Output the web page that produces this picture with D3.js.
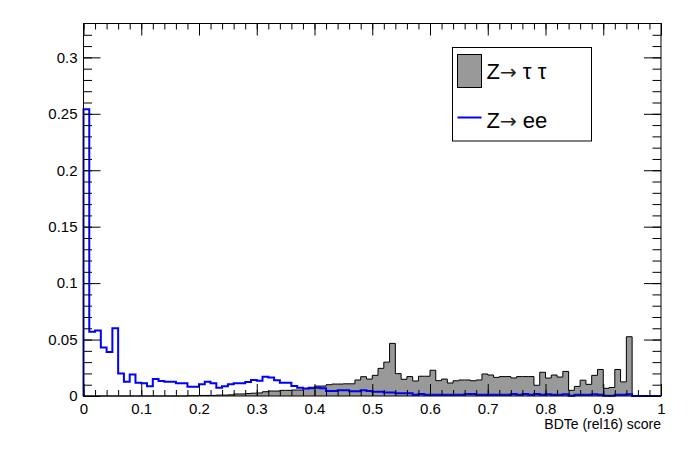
<!DOCTYPE html>
<html>
<head>
<meta charset="utf-8">
<script src="https://cdn.jsdelivr.net/npm/d3@7"></script>
<style>
  body { margin: 0; background: #fff; }
  svg { display: block; font-family: "Liberation Sans", Arial, sans-serif; }
  .tick text { font-size: 15px; fill: #000; }
</style>
</head>
<body>
<div id="chart"></div>
<script>
// 100 bins of width 0.01 on [0, 1]
const binWidth = 0.01;

// Z -> tau tau (grey filled)
const tautau = [
  0, 0, 0, 0, 0, 0, 0, 0, 0, 0,
  0, 0, 0, 0, 0, 0, 0, 0, 0.0003, 0.0003,
  0.0005, 0.0005, 0.0005, 0.0008, 0.0008, 0.001, 0.0018, 0.0018, 0.0022, 0.0025,
  0.0027, 0.0038, 0.0044, 0.0044, 0.005, 0.005, 0.0053, 0.0053, 0.0065, 0.0065,
  0.0088, 0.0088, 0.0100, 0.0106, 0.0106, 0.0108, 0.0108, 0.0142, 0.0171, 0.0150,
  0.0183, 0.0245, 0.0300, 0.0466, 0.0198, 0.0148, 0.0172, 0.0133, 0.0175, 0.0175,
  0.0228, 0.0136, 0.0150, 0.0115, 0.0135, 0.0142, 0.0142, 0.0135, 0.0142, 0.0195,
  0.0186, 0.0165, 0.0172, 0.0172, 0.0160, 0.0172, 0.0172, 0.0172, 0.0095, 0.0210,
  0.0159, 0.0186, 0.0168, 0.0218, 0.0050, 0.0085, 0.0140, 0.0103, 0.0183, 0.0235,
  0.0068, 0.0075, 0.0235, 0.0125, 0.0525, 0, 0, 0, 0, 0
];

// Z -> ee (blue line)
const zee = [
  0.254, 0.057, 0.058, 0.043, 0.039, 0.060, 0.020, 0.0127, 0.019, 0.0118,
  0.0112, 0.0086, 0.015, 0.0133, 0.0127, 0.0127, 0.0112, 0.0112, 0.0083, 0.0083,
  0.0103, 0.0127, 0.0112, 0.0074, 0.0086, 0.0103, 0.0112, 0.0112, 0.0124, 0.0142,
  0.0136, 0.0171, 0.0163, 0.0140, 0.0118, 0.0118, 0.0089, 0.0074, 0.0066, 0.0074,
  0.0074, 0.0068, 0.0044, 0.0044, 0.0050, 0.0050, 0.0041, 0.0041, 0.0050, 0.0044,
  0.0038, 0.0038, 0.0030, 0.0030, 0.0024, 0.0024, 0.0024, 0.0012, 0.0018, 0.0012,
  0.0012, 0.0012, 0.0010, 0.0012, 0.0012, 0.0010, 0.0018, 0.0018, 0.0012, 0.0012,
  0.0012, 0.0010, 0.0012, 0.0012, 0.0018, 0.0010, 0.0018, 0.0012, 0.0018, 0.0012,
  0.0015, 0.0012, 0.0012, 0.0015, 0.0003, 0.0010, 0.0012, 0.0012, 0.0015, 0.0010,
  0.0003, 0.0003, 0.0012, 0.0012, 0.0015, 0, 0, 0, 0, 0
];

const xTicks = [0, 0.1, 0.2, 0.3, 0.4, 0.5, 0.6, 0.7, 0.8, 0.9, 1];
const xTickLabels = ["0", "0.1", "0.2", "0.3", "0.4", "0.5", "0.6", "0.7", "0.8", "0.9", "1"];
const yTicks = [0, 0.05, 0.1, 0.15, 0.2, 0.25, 0.3];
const yTickLabels = ["0", "0.05", "0.1", "0.15", "0.2", "0.25", "0.3"];
const xTitle = "BDTe (rel16) score";
// legend entries: prefix, arrow, suffix
const legendLabels = [["Z", "\u2192", " \u03c4 \u03c4"], ["Z", "\u2192", " ee"]];

const width = 696, height = 472;
const margin = {left: 83.5, right: 35, top: 23.5, bottom: 76};
const yMax = 0.33;

const svg = d3.select("#chart").append("svg")
  .attr("width", width)
  .attr("height", height);

const x = d3.scaleLinear().domain([0, 1]).range([margin.left, width - margin.right]);
const y = d3.scaleLinear().domain([0, yMax]).range([height - margin.bottom, margin.top]);

// step points: start on axis, one point per bin, end on axis
function stepPoints(values) {
  const pts = [[0, 0]];
  values.forEach((v, i) => pts.push([i * binWidth, v]));
  pts.push([values.length * binWidth, values[values.length - 1]]);
  pts.push([values.length * binWidth, 0]);
  return pts;
}

const stepLine = d3.line()
  .x(d => x(d[0]))
  .y(d => y(d[1]))
  .curve(d3.curveStepAfter);

// grey histogram
svg.append("path")
  .attr("d", stepLine(stepPoints(tautau)))
  .attr("fill", "#999999")
  .attr("stroke", "#000")
  .attr("stroke-width", 1);

// blue histogram
svg.append("path")
  .attr("d", stepLine(stepPoints(zee)))
  .attr("fill", "none")
  .attr("stroke", "#0000ff")
  .attr("stroke-width", 2);

// axes, ticks inside on all four sides
const xMinor = d3.range(0, 1.0001, 0.02);
const yMinor = d3.range(0, yMax, 0.01);

function drawAxis(axisFn, scale, ticks, labels, minor, majorLen, minorLen, transform, showLabels) {
  const g = svg.append("g").attr("transform", transform);
  g.call(axisFn(scale).tickValues(minor).tickSize(-minorLen).tickFormat(""));
  const gm = svg.append("g").attr("transform", transform);
  gm.call(axisFn(scale).tickValues(ticks).tickSize(-majorLen).tickPadding(5)
    .tickFormat((d, i) => showLabels ? labels[i] : ""));
  [g, gm].forEach(s => {
    s.select(".domain").remove();
    s.selectAll(".tick line").attr("stroke", "#000").attr("stroke-width", 1);
  });
  return gm;
}

const bottom = height - margin.bottom;
const right = width - margin.right;

const gx = drawAxis(d3.axisBottom, x, xTicks, xTickLabels, xMinor, 12, 6, `translate(0,${bottom})`, true);
gx.selectAll(".tick text").attr("dy", "0.85em");
drawAxis(d3.axisTop, x, xTicks, xTickLabels, xMinor, 12, 6, `translate(0,${margin.top})`, false);
const gy = drawAxis(d3.axisLeft, y, yTicks, yTickLabels, yMinor, 17, 8.5, `translate(${margin.left},0)`, true);
gy.selectAll(".tick text").attr("dx", "-1px");
drawAxis(d3.axisRight, y, yTicks, yTickLabels, yMinor, 17, 8.5, `translate(${right},0)`, false);

// frame
svg.append("rect")
  .attr("x", margin.left)
  .attr("y", margin.top)
  .attr("width", right - margin.left)
  .attr("height", bottom - margin.top)
  .attr("fill", "none")
  .attr("stroke", "#000")
  .attr("stroke-width", 1);

// x title
svg.append("text")
  .attr("x", right)
  .attr("y", bottom + 33)
  .attr("text-anchor", "end")
  .attr("font-size", 14)
  .text(xTitle);

// legend
const legend = svg.append("g").attr("transform", "translate(452.5,47.5)");
legend.append("rect")
  .attr("width", 139)
  .attr("height", 93.5)
  .attr("fill", "#fff")
  .attr("stroke", "#000");
legend.append("rect")
  .attr("x", 5)
  .attr("y", 7)
  .attr("width", 24)
  .attr("height", 33)
  .attr("fill", "#999999")
  .attr("stroke", "#000");
legend.append("line")
  .attr("x1", 5).attr("x2", 29)
  .attr("y1", 70).attr("y2", 70)
  .attr("stroke", "#0000ff")
  .attr("stroke-width", 2);
const legText = legend.selectAll("text.leg")
  .data(legendLabels)
  .enter()
  .append("text")
  .attr("class", "leg")
  .attr("x", 34)
  .attr("y", (d, i) => i === 0 ? 31 : 80)
  .attr("font-size", 22);
legText.append("tspan").text(d => d[0]);
legText.append("tspan")
  .attr("font-family", "DejaVu Sans")
  .attr("font-size", 20)
  .attr("fill", "#222")
  .text(d => d[1]);
legText.append("tspan").text(d => d[2]);
</script>
</body>
</html>
